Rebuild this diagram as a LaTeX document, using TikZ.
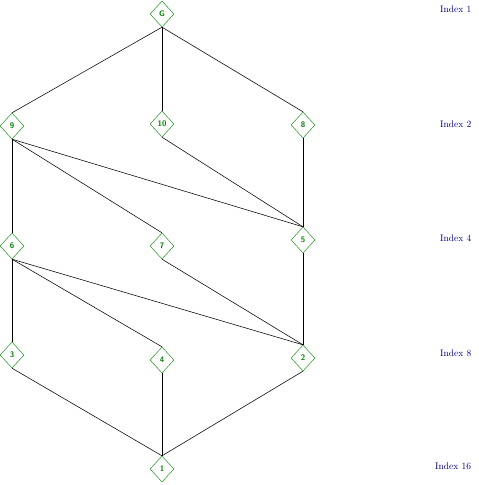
\documentclass[tikz,border=0pt]{standalone}
\usetikzlibrary{shapes.geometric}
\definecolor{nodegreen}{RGB}{0,128,0}
\definecolor{idxblue}{RGB}{0,0,128}
\begin{document}
\begin{tikzpicture}[x=1pt,y=-1pt,
  vtx/.style={diamond,draw=nodegreen,text=nodegreen,minimum width=24pt,minimum height=26pt,inner sep=0pt,font=\sffamily\bfseries\fontsize{8}{9}\selectfont},
  idx/.style={anchor=west,text=idxblue,inner sep=0pt,font=\fontsize{9.5}{11}\selectfont},
  edge/.style={draw=black,line width=0.55pt}]
\useasboundingbox (0,0) rectangle (479,485);
\node[vtx] (G) at (162,14) {G};
\node[vtx] (n9) at (12,126) {9};
\node[vtx] (n10) at (162,124) {10};
\node[vtx] (n8) at (303,125) {8};
\node[vtx] (n6) at (12,246) {6};
\node[vtx] (n7) at (162,246) {7};
\node[vtx] (n5) at (303,240) {5};
\node[vtx] (n3) at (12,355) {3};
\node[vtx] (n4) at (162,360) {4};
\node[vtx] (n2) at (303,358) {2};
\node[vtx] (n1) at (162,469) {1};
\node[idx] (i1) at (440,9) {Index 1};
\node[idx] (i2) at (440,124) {Index 2};
\node[idx] (i4) at (440,238) {Index 4};
\node[idx] (i8) at (440,353) {Index 8};
\node[idx] (i16) at (435,466) {Index 16};
\foreach \a/\b in {G/n9,G/n10,G/n8,n9/n6,n9/n7,n9/n5,n10/n5,n8/n5,n6/n3,n6/n4,n6/n2,n7/n2,n5/n2,n3/n1,n4/n1,n2/n1}
  \draw[edge] (\a.south) -- (\b.north);
\end{tikzpicture}
\end{document}
